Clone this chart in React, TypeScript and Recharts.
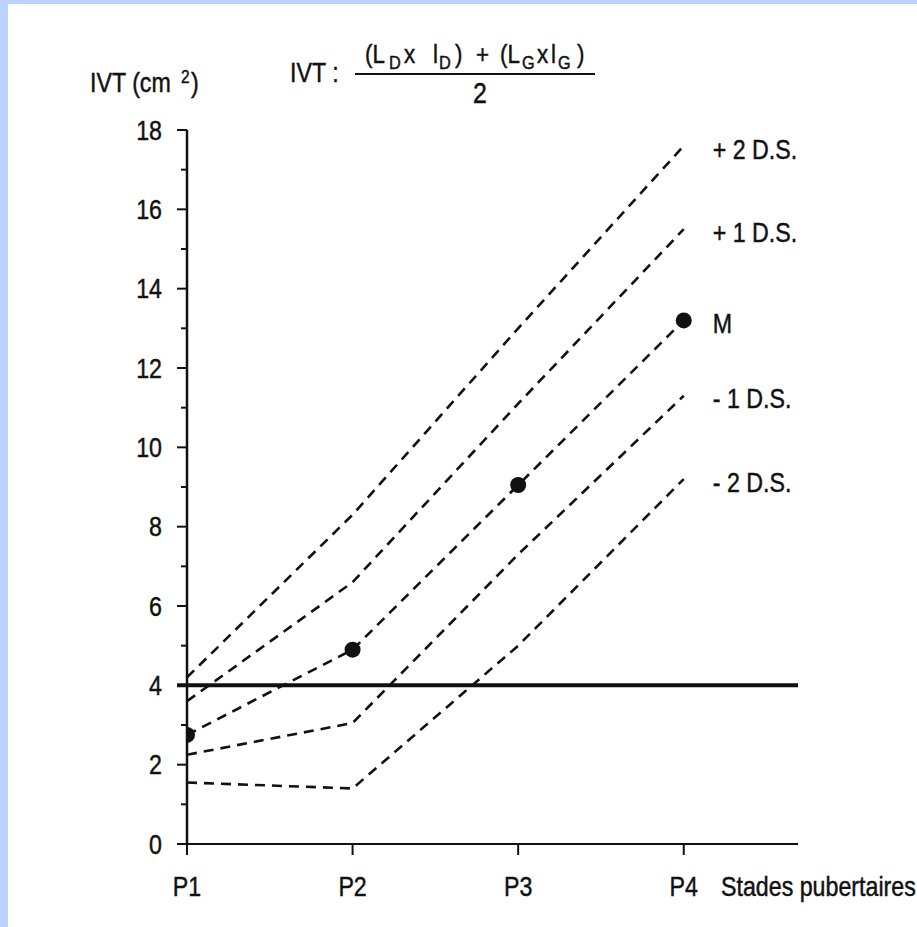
import { LineChart, Line, XAxis, YAxis, ReferenceLine } from "recharts";

// pubertal stages, x positions 1..4
const stages = [1, 2, 3, 4];
const stageLabels = ["P1", "P2", "P3", "P4"];

// IVT values (cm²)
const plus2 = [4.2, 8.3, 13.0, 17.6];
const plus1 = [3.6, 6.6, 11.1, 15.5];
const mean = [2.75, 4.9, 9.05, 13.2];
const minus1 = [2.25, 3.05, 7.3, 11.3];
const minus2 = [1.55, 1.4, 5.0, 9.2];

const seriesKeys = ["plus2", "plus1", "mean", "minus1", "minus2"];
const seriesLabels = ["+ 2 D.S.", "+ 1 D.S.", "M", "- 1 D.S.", "- 2 D.S."];

const yTicks = [0, 1, 2, 3, 4, 5, 6, 7, 8, 9, 10, 11, 12, 13, 14, 15, 16, 17, 18];
const threshold = 4;

const data = stages.map((stage, i) => ({
  stage,
  plus2: plus2[i],
  plus1: plus1[i],
  mean: mean[i],
  minus1: minus1[i],
  minus2: minus2[i],
}));

const FONT = "'Liberation Sans', Arial, Helvetica, sans-serif";
const INK = "#111";
const SX = 0.86; // horizontal squeeze, the scan uses a condensed face

// condensed text: scaled around its own anchor point
const NText = ({
  x,
  y,
  size,
  anchor = "start",
  baseline,
  children,
}: {
  x: number;
  y: number;
  size: number;
  anchor?: "start" | "middle" | "end";
  baseline?: string;
  children: any;
}) => (
  <text
    transform={`translate(${x},${y}) scale(${SX},1)`}
    x={0}
    y={0}
    fontSize={size}
    textAnchor={anchor}
    dominantBaseline={baseline as any}
    fontFamily={FONT}
    fill={INK}
    stroke={INK}
    strokeWidth={0.45}
  >
    {children}
  </text>
);

const YTick = (props: any) => {
  const { x, y, payload } = props;
  const v = payload.value as number;
  const major = v % 2 === 0;
  return (
    <g>
      <line x1={x - (major ? 10 : 6)} x2={x} y1={y} y2={y} stroke={INK} strokeWidth={2} />
      {major && (
        <NText x={x - 25} y={y} size={27} anchor="end" baseline="central">
          {v}
        </NText>
      )}
    </g>
  );
};

const XTick = (props: any) => {
  const { x, y, payload } = props;
  return (
    <g>
      <line x1={x} x2={x} y1={y} y2={y + 11} stroke={INK} strokeWidth={2} />
      <NText x={x} y={y + 52} size={27} anchor="middle">
        {stageLabels[payload.value - 1]}
      </NText>
    </g>
  );
};

const endLabel = (idx: number) => (props: any) => {
  const { x, y, index } = props;
  if (index !== stages.length - 1) return null;
  return (
    <g key={`lbl-${idx}`}>
      <NText x={x + 29} y={y + 3} size={27} baseline="central">
        {seriesLabels[idx]}
      </NText>
    </g>
  );
};

function Header() {
  return (
    <svg
      width={917}
      height={927}
      style={{ position: "absolute", left: 0, top: 0, pointerEvents: "none" }}
    >
      {/* y axis title */}
      <NText x={90} y={92} size={27}>IVT (cm</NText>
      <NText x={181} y={83} size={18}>2</NText>
      <NText x={191} y={92} size={27}>)</NText>

      {/* formula */}
      <NText x={290} y={82} size={27}>IVT :</NText>
      <NText x={365} y={63} size={26}>(L</NText>
      <NText x={389} y={69} size={19}>D</NText>
      <NText x={404} y={63} size={26}>x</NText>
      <NText x={433} y={63} size={26}>l</NText>
      <NText x={439} y={69} size={19}>D</NText>
      <NText x={455} y={63} size={26}>)</NText>
      <NText x={476} y={63} size={26}>+</NText>
      <NText x={500} y={63} size={26}>(L</NText>
      <NText x={522} y={69} size={19}>G</NText>
      <NText x={537} y={63} size={26}>x</NText>
      <NText x={551} y={63} size={26}>l</NText>
      <NText x={558} y={69} size={19}>G</NText>
      <NText x={577} y={63} size={26}>)</NText>
      <line x1={355} x2={595} y1={74} y2={74} stroke={INK} strokeWidth={2.2} />
      <NText x={480} y={103} size={29} anchor="middle">2</NText>

      {/* x axis title */}
      <NText x={721} y={896} size={27}>Stades pubertaires</NText>
    </svg>
  );
}

export default function App() {
  return (
    <div
      style={{
        position: "fixed",
        left: 0,
        top: 0,
        width: 917,
        height: 927,
        background: "#bbd3fe",
        overflow: "hidden",
      }}
    >
      <div
        style={{
          position: "absolute",
          left: 8,
          top: 4,
          right: 0,
          bottom: 0,
          background: "#fff",
        }}
      />
      <div style={{ position: "absolute", left: 0, top: 0 }}>
        <LineChart
          width={917}
          height={927}
          data={data}
          margin={{ top: 130, right: 119, bottom: 23, left: 127 }}
        >
          <XAxis
            type="number"
            dataKey="stage"
            domain={[1, 4.69]}
            ticks={stages}
            interval={0}
            allowDataOverflow
            tick={<XTick />}
            tickSize={0}
            tickMargin={0}
            tickLine={false}
            stroke={INK}
            strokeWidth={2}
            height={60}
          />
          <YAxis
            type="number"
            domain={[0, 18]}
            ticks={yTicks}
            interval={0}
            tick={<YTick />}
            tickSize={0}
            tickMargin={0}
            tickLine={false}
            stroke={INK}
            strokeWidth={2.5}
            width={60}
          />
          <ReferenceLine
            segment={[
              { x: 0.94, y: threshold },
              { x: 4.69, y: threshold },
            ]}
            stroke={INK}
            strokeWidth={4}
            ifOverflow="visible"
          />
          {seriesKeys.map((key, i) => (
            <Line
              key={key}
              type="linear"
              dataKey={key}
              stroke={INK}
              strokeWidth={2.6}
              strokeDasharray="10 7"
              dot={
                key === "mean"
                  ? { r: 8, fill: INK, stroke: INK, strokeWidth: 0 }
                  : false
              }
              label={endLabel(i)}
              isAnimationActive={false}
            />
          ))}
        </LineChart>
      </div>
      <Header />
    </div>
  );
}
